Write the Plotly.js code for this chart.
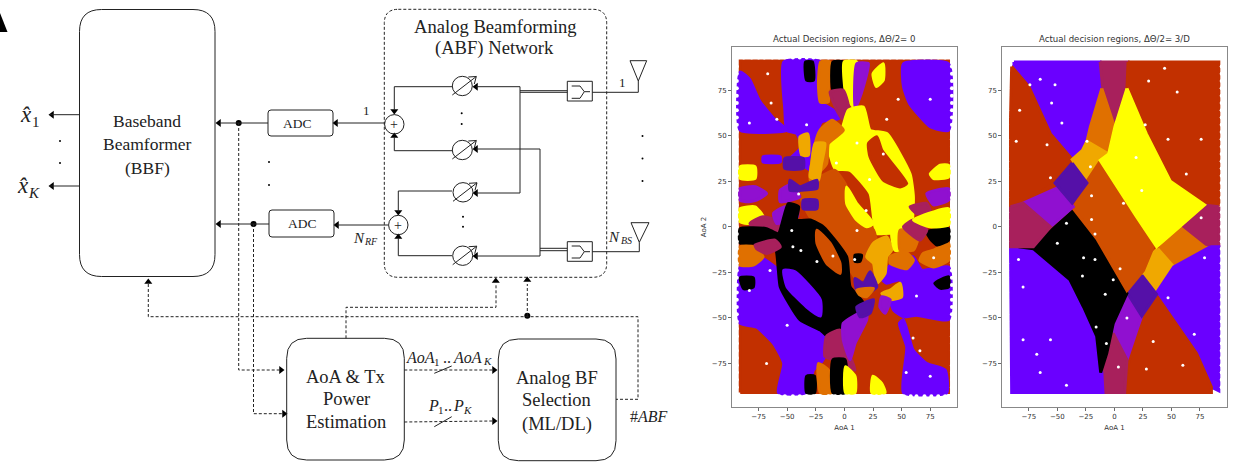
<!DOCTYPE html>
<html><head><meta charset="utf-8">
<script src="https://cdn.plot.ly/plotly-3.0.0.min.js"></script>
<style>html,body{margin:0;padding:0;background:#fff}#c{width:1241px;height:462px}</style>
</head><body><div id="c"></div>
<script>
// ---- region colours
const palette = {purple:'#6A00FF',red:'#C23000',crimson:'#A8205C',orange:'#E07000',amber:'#F0A800',
  yellow:'#FFFF00',black:'#000000',indigo:'#5510A8',violet:'#9010D0',deep:'#D04F00'};

// ---- right plot: decision regions (AoA 1, AoA 2) vertices
const rightRegions = [
 ['red',[[-88,-88],[88,-88],[88,88],[-88,88]]],
 ['purple',[[-88,90.5],[-12.5,90.5],[-11,76],[-21,55],[-24,47],[-28,42],[-37,37],[-39,39],[-56,51],[-75,77],[-88,88]]],
 ['red',[[-90,88],[-75,77],[-56,51],[-39,39],[-37,37],[-37,35],[-52,24],[-80,13],[-91,11],[-91,60]]],
 ['crimson',[[-12.5,90.5],[12,90.5],[11,75],[0,55],[-10,75]]],
 ['orange',[[-11,76],[0,55],[-5,40],[-24,47],[-21,55]]],
 ['amber',[[-24,47],[-5,40],[-12,36],[-24,25],[-37,37],[-28,42]]],
 ['red',[[12,90.5],[91.5,90.5],[91.5,12],[79,12],[49,25],[28,51],[11,76]]],
 ['crimson',[[91.5,11],[79,12],[57,0],[65,-7],[84,-11],[91.5,-11]]],
 ['orange',[[57,0],[79,-11],[84,-12],[52,-22],[38,-13]]],
 ['amber',[[38,-12],[52,-22],[37,-35],[25,-26],[31,-16]]],
 ['purple',[[84,-11],[91.5,-11],[91.5,-90],[85,-88],[72,-69.5],[36,-37],[52,-22]]],
 ['red',[[36,-37],[72,-69.5],[85,-88],[85,-91],[9,-91],[11,-79],[19.5,-57],[24,-49]]],
 ['violet',[[11,-38],[24,-49],[19.5,-57],[11,-73],[0.5,-62],[-1,-53]]],
 ['indigo',[[24,-26.5],[37,-37],[24,-49],[11,-36]]],
 ['crimson',[[-11,-91],[9,-91],[11,-73],[-1,-58.5],[-6.7,-69.5],[-11,-80]]],
 ['purple',[[-91,-11],[-84,-11],[-71,-12],[-39,-29],[-27,-44],[-15.5,-60],[-11,-80],[-10,-91],[-90,-91]]],
 ['black',[[-36,9],[-15.5,-6.4],[11,-36.5],[-1,-53],[-6.7,-69.5],[-12,-80],[-15.5,-60],[-27,-44],[-39,-29],[-71,-12],[-84,-11],[-59,-4]]],
 ['deep',[[-12.5,36],[34,-11],[25.5,-24],[11,-35],[-15.5,-6.4],[-36,10],[-24,25]]],
 ['yellow',[[11,76],[28,51],[49,25],[79,12],[57,0],[37,-11],[19.5,5.5],[-12.5,36.5],[-5,40],[0.5,55]]],
 ['violet',[[-47.5,22],[-36,11],[-56,0],[-80,13]]],
 ['indigo',[[-37,35],[-24,24],[-37,13],[-52,24]]],
 ['crimson',[[-91,11],[-80,13],[-56,0],[-71,-11],[-91,-11]]]
];
const rightSpeckX = [-65,-52,-74,-55,-46,-83,-86,-59,-24,-21,-56,-20,-20,-42,-50,-27,-17,-1,-8,-28,-84,-80,-80,-68,-65,-42,-56,-16,-7,5,-17,8,19,24,30,44,55,63,76,47,27,76,79,47,70,60,28,34,11,3.5];
const rightSpeckY = [81,78,78,68,57,64,47,45,47,33,27,17,4,2,-9,-17,-18,-29,-37,-27,-18,-33,-62,-70,-80,-87,-62,-55,-64,-23,-4,13,38,20,80,87,74,29,48,48,56,5,-17,-39,-59,-76,-78,-63,-50,-77];

// ---- left plot: decision regions, painted in this order
const leftBase = [[-91,-91],[91,-91],[91,91],[-91,91]];
const leftRegions = [
 ['purple',[[-91,-22],[-83,-18.3],[-74,-16.5],[-57.7,-23.8],[-56,-33],[-38.8,-51],[-21,-56.7],[-14,-67.6],[-21,-75],[-27,-78.6],[-33,-91],[-57.7,-91],[-53,-75],[-62,-64],[-77,-55],[-91,-53]]],
 ['purple',[[-53,90.5],[-20.7,90.5],[-20.7,68.5],[-9.6,64],[-5,59.4],[-20,57.6],[-25.7,45.7],[-28.6,31],[-41.7,35.6],[-50.4,35.6],[-37.3,43.9],[-41.7,51.2],[-50.4,53],[-52,64]]],
 ['purple',[[-91,85],[-83,81],[-74,69],[-61,59],[-50,53],[-91,53]]],
 ['purple',[[51.6,89.5],[91,89.5],[91,53],[75,55],[57,67.6],[51.6,77]]],
 ['purple',[[60,-16.5],[67.6,-23.8],[91,-22],[91,-51],[63,-48.5],[51.6,-49.4],[43,-45.7],[40,-40],[48.7,-36.6],[48.7,-29],[37,-31],[31,-27.4],[45.7,-18.3]]],
 ['purple',[[48,-53],[54.5,-66],[51.6,-91],[89.5,-91],[88,-78.6],[72,-75],[60,-67.6],[51.6,-51]]],
 ['black',[[-34,90.5],[-28,90.5],[-27,80.5],[-33,80.5]]],
 ['orange',[[-20.7,90.5],[-12.5,90.5],[-14,75],[-14,68.5],[-21,68.5],[-22.7,78.6]]],
 ['black',[[-10,90.5],[-1,90.5],[-1,75],[-10,75]]],
 ['yellow',[[-0.3,90.5],[10.8,90.5],[9.3,75],[9.3,65],[2,71],[-0.3,80.5]]],
 ['violet',[[10.8,89.5],[21,89.5],[16.6,77],[12,68.5],[9.3,65]]],
 ['crimson',[[-12.5,74],[-1,75],[3.5,66],[-1,59],[-5,62]]],
 ['yellow',[[25,84],[34,89.5],[34,80.5],[28,77]]],
 ['yellow',[[3.5,64],[16.6,65.8],[22.4,53],[37,51.2],[57.4,29],[60.3,16.5],[58.9,0],[51.6,-12.8],[44.3,-12.8],[41.4,-3.7],[28.3,-3.7],[25.4,5.5],[22.4,18.3],[5,31],[-8.2,32],[-14,43.9],[-14,49.4],[-3.8,51.2]]],
 ['red',[[21,45.7],[28.3,49.4],[32.7,42],[54.5,23.8],[48.7,21.9],[34,25.6],[22.4,38.4]]],
 ['deep',[[-38.8,18.3],[-21.3,27.4],[-8.2,31],[2,21.9],[2,12.8],[25.4,-1.8],[28.3,-9],[22.4,-27.4],[10.8,-29],[2,-20],[-18.4,0],[-30,5.5]]],
 ['yellow',[[2,21.9],[10.8,12.8],[25.4,1.8],[19.5,0],[10.8,3.7],[2,12.8]]],
 ['orange',[[-21.3,53],[-10.7,58.5],[-0.9,53],[-14,45.7],[-15.5,34.7],[-30,25.6],[-25.5,45.7]]],
 ['amber',[[-25.7,45.7],[-17,45.7],[-20,34.7],[-22.7,25.6],[-30,27.4],[-28.6,34.7]]],
 ['amber',[[-38.8,49.4],[-32,51],[-31.5,39.3],[-37.3,39.3]]],
 ['yellow',[[-91,33],[-78,33],[-78,26.5],[-91,26.5]]],
 ['violet',[[-91,21],[-78,22],[-68,18.3],[-76.7,14.6],[-85,13.7],[-91,14.6]]],
 ['yellow',[[-91,10],[-78,11],[-71,5.5],[-82.5,1.8],[-91,2.7]]],
 ['crimson',[[-82.5,1.8],[-71,5.5],[-53,1.8],[-56,-1.8],[-74,-3.7]]],
 ['violet',[[-62,7.3],[-52,11],[-41,9],[-41,5.5],[-59,1.8]]],
 ['indigo',[[-52,37.5],[-36,37.5],[-36,32],[-52,32]]],
 ['purple',[[-71,38.4],[-56,38.4],[-56,35.6],[-71,35.6]]],
 ['violet',[[-56,20],[-47.5,22.9],[-38.8,16.5],[-56,13.7]]],
 ['indigo',[[-47.5,25.6],[-38.8,22],[-24,25.6],[-24,21],[-38.8,20],[-47.5,20]]],
 ['indigo',[[-36,14.6],[-24,14.6],[-24,10],[-36,10]]],
 ['black',[[-49,12.8],[-40,11],[-41.7,3.7],[-30,3.7],[-18.4,0],[2,-16.5],[5,-33],[16.6,-42],[2,-53],[-3.8,-58.5],[-11,-62],[-21,-56.7],[-38.8,-51],[-56,-33],[-57.7,-23.8],[-60.6,-11],[-79.6,-9],[-91,-9],[-91,-1],[-68,-1],[-57.7,-3.7]]],
 ['purple',[[-53,-23.8],[-43,-24.7],[-21,-40],[-21,-49],[-33,-44],[-50,-33]]],
 ['deep',[[-24,-1.8],[-12.5,-9],[-3.8,-20],[-3.8,-25.6],[-15.5,-20],[-24,-9]]],
 ['black',[[-91,-28],[-79.6,-28],[-79.6,-33],[-88,-34]]],
 ['orange',[[-91,-11],[-79.6,-11],[-71,-16.5],[-79.6,-21],[-91,-21]]],
 ['crimson',[[-78,-10],[-60.6,-7.3],[-56,-11],[-68,-14.6],[-76.7,-12]]],
 ['black',[[-33,-82],[-26,-82],[-26,-91],[-33,-91]]],
 ['orange',[[-22.7,-75],[-14,-78.6],[-11,-91],[-21,-91]]],
 ['crimson',[[-15.5,-60],[-3.8,-56.7],[5,-71],[9.3,-78.6],[1,-76.8],[-10,-73],[-17,-71]]],
 ['black',[[-10,-73],[0.6,-73],[0.6,-91],[-10,-91]]],
 ['yellow',[[1,-76.8],[9.3,-82],[9.3,-91],[1,-91]]],
 ['violet',[[-1,-53],[19.5,-45.7],[19.5,-51],[9.3,-64],[5,-73],[-1,-62]]],
 ['yellow',[[25,-82],[32.7,-86],[35.6,-91],[24,-91]]],
 ['amber',[[25.4,-9],[37,-5.5],[41.4,-12.8],[37,-16.5],[35.6,-25.6],[28.3,-31],[25.4,-20],[19.5,-16.5]]],
 ['amber',[[40,-34.7],[48.7,-31],[50,-38.4],[40,-40],[32.7,-36.6]]],
 ['yellow',[[41.4,-3.7],[51.6,-5.5],[51.6,-12.8],[44.3,-12.8]]],
 ['orange',[[48.7,-1.8],[65,-3.7],[60.3,-12.8],[48.7,-12.8]]],
 ['orange',[[40,-16.5],[53,-13.7],[60.3,-18.3],[54.5,-23],[40,-20]]],
 ['orange',[[69,-14.6],[78,-12.8],[91,-9],[91,-18.3],[78,-22],[66,-18.3]]],
 ['black',[[72,-2.7],[91,-1],[91,-7.3],[81,-10],[75,-6.4]]],
 ['black',[[79,-31],[91,-27.4],[91,-33],[84,-33.8]]],
 ['crimson',[[51.6,0],[60.3,3.7],[72,-1.8],[66,-7.3],[57.4,-3.7]]],
 ['crimson',[[57.4,11],[72,12.8],[75,8.2],[63,7.3]]],
 ['violet',[[72,18.3],[91,21],[91,14.6],[78,12]]],
 ['yellow',[[75,29],[83.7,33.8],[91,33.8],[91,27.4],[78,26.5]]],
 ['yellow',[[60.3,3.7],[78,8.2],[91,10],[91,1],[75,0]]],
 ['indigo',[[9.3,-28.3],[16.6,-31],[22.4,-24.7],[28.3,-33],[19.5,-36.6],[10.8,-34.7]]],
 ['orange',[[10.8,-34.7],[25.4,-33.8],[19.5,-38.4],[13.7,-37.5]]],
 ['indigo',[[16.6,-42],[25.4,-40],[22.4,-47.5],[13.7,-49.4],[10.8,-44]]],
 ['violet',[[32.7,-38.4],[40,-40],[35.6,-47.5],[31,-43.9]]],
 ['black',[[9.3,-15.5],[15,-15.5],[13.7,-19],[9.3,-19]]]
];
const leftSpeckX = [-67,-64,-83,-59,-33,34,-7,11,-68,-50,22,-40,-46,-24,-10,9,-65,-83,60,54,75,66,75,47,37,11,78,63,19,-45,-38];
const leftSpeckY = [84,68,57,59,56,40,35,46,-75,-54,26,18,-2,-19,-16,-18,-24,-35,-61,-80,-82,-68,70,70,59,-2,-17,-38,9,-11,-13];

// gaps between the round points along the outer edge of the point cloud
const edgeGapX = [-88,-81,-75,-70,-63,-57,-52,-45,-39,-33,-27,-21,-14,-8,-3,4,10,15,22,28,33,40,46,52,58,63,70,76,82,88];
const edgeGapY = [-88,-84,-80,-76,-72,-68,-64,-60,-56,-52,-48,-44,-40,-36,-32,-28,-24,-20,-16,-12,-8,-4,0,4,8,12,16,20,24,28,32,36,40,44,48,52,56,60,64,68,72,76,80,84,88];

const tickVals = [-75,-50,-25,0,25,50,75];

// ---- block diagram, on a page-sized axis (x3/y3)
const roundBoxes = [[79.5,9.5,215,276.5,22],[268,110,333,136,3],[269,210,334,237,3],[286.7,338.3,404.3,460,20],[498.3,339,616,460.7,20]];
const abfBox = [384.3,9.3,606.7,277.3,14];
const splitBoxes = [[567.3,81.3,592.3,101],[567.3,241.7,592.3,261.3]];
const solidLines = [
 [[79.5,114.7],[50,114.7]],[[79.5,186],[50,186]],
 [[268,123],[220,123]],[[269,224],[220,224]],
 [[384.6,123],[336,123]],[[388,225],[337,225]],
 [[567.3,90.7],[520,90.7]],[[567.3,92.3],[520,92.3]],[[520,86.7],[520,193]],
 [[520,86.7],[476,86.7]],[[520,193],[476,193]],
 [[567.3,248.3],[540,248.3]],[[567.3,250.7],[540,250.7]],[[540,149],[540,256]],
 [[540,149],[476,149]],[[540,256],[476,256]],
 [[452,86.7],[394.3,86.7],[394.3,110]],[[452,150.7],[394.3,150.7],[394.3,137]],
 [[452,191],[398.3,191],[398.3,212]],[[452,255.7],[398.3,255.7],[398.3,238]],
 [[592.3,92.3],[638.3,92.3],[638.3,81]],[[592.3,251.7],[639.3,251.7],[639.3,242.3]],
 [[630,60.7],[646.7,60.7],[638.3,81],[630,60.7]],[[631,222.7],[649,222.7],[639.3,242.3],[631,222.7]],
 [[571.7,86],[580,86],[584.3,91.7],[580,98.3],[571.7,98.3]],[[584.3,91.7],[590,91.7]],
 [[571.7,246],[580,246],[584.3,251.7],[580,258],[571.7,258]],[[584.3,251.7],[590,251.7]],
 [[434.3,373.3],[451.7,366]],[[434.3,426.7],[451.7,416.7]]
];
const dashedLines = [
 [[238.7,123],[238.7,370],[280,370]],[[253.5,224],[253.5,413.7],[283,413.7]],
 [[148.3,284],[148.3,316.7],[638,316.7],[638,399.3],[616,399.3]],
 [[527.3,316],[527.3,284]],[[346,338.3],[346,307.3],[496,307.3],[496,284]],
 [[404.3,370],[492,370]],[[404.3,422],[492,421]]
];
const shifterX = [462.3,462.3,463,462.7];
const shifterY = [86,150,192.3,255.7];
const sumX = [394.3,398.3];
const sumY = [124.3,225];
const dotX = [238.7,253.5,527.3];
const dotY = [123,224,315.8];
const speckDotX = [60,60,269,269,642.5,642.5,642.5,461.7,461.7,463,463];
const speckDotY = [141,163,162,185,136,158.5,181,113.3,124,216.7,226.7];
const arrowLeftX = [52,219,336,337,476,476,476,476,52,219];
const arrowLeftY = [114.7,123,123,225,86.7,149,193,256,186,224];
const arrowRightX = [281,284,494,494];
const arrowRightY = [370,413.7,370,421];
const arrowUpX = [148.3,495.8,527.3,394.3,398.3];
const arrowUpY = [282,281,280,136,237];
const arrowDownX = [394.3,398.3];
const arrowDownY = [111,212];

// [text, x, y, size]
const serifLabels = [
 ['Baseband',147,120.7,17.5],['Beamformer',147,144,17.5],['(BBF)',147,167.7,17.5],
 ['ADC',297,123,13.5],['ADC',302,223,13.5],
 ['Analog Beamforming',495,26,18.6],['(ABF) Network',494,48,18.6],
 ['+',394.3,124,14],['+',398.3,225,14],
 ['1',366,110.7,13],['1',622.7,82,13],
 ['<i>N</i>',358.5,238,15],['<i>RF</i>',370.5,241.5,10],
 ['<i>N</i>',613.5,237,15],['<i>BS</i>',626,240.5,10],
 ['AoA &amp; Tx',346,377.3,18.5],['Power',346,399,18.5],['Estimation',346,421.7,18.5],
 ['Analog BF',556.7,377.7,18.5],['Selection',556.7,400,18.5],['(ML/DL)',556.7,424.3,18.5],
 ['<i>AoA</i>',420.7,357,16],['1',437.3,361.7,11],['..',446.7,357,16],['<i>AoA</i>',467,357,16],['<i>K</i>',487.5,360.7,11],
 ['<i>P</i>',433.3,405.7,16],['1',440.7,410,11],['..',448.3,405.7,16],['<i>P</i>',458.3,405.7,16],['<i>K</i>',467.3,410,11],
 ['#<i>ABF</i>',649.3,416.7,16],
 ['<i>x̂</i>',26,114,23],['1',35.5,122,15],['<i>x̂</i>',22.5,185.5,23],['<i>K</i>',34,193,15]
];
const plotTitles = [['Actual Decision regions, ΔΘ/2= 0',844.5,38.5],['Actual decision regions, ΔΘ/2= 3/D',1114.5,38.5]];

// ---- build
const traces = [];
function regionTraces(list, xa, ya, w, spl){
  list.forEach(function(r){
    const p = r[1].concat([r[1][0]]);
    traces.push({type:'scatter',mode:'lines',x:p.map(v=>v[0]),y:p.map(v=>v[1]),xaxis:xa,yaxis:ya,fill:'toself',
      fillcolor:palette[r[0]],line:{color:palette[r[0]],width:w,shape:spl?'spline':'linear',smoothing:0.5},hoverinfo:'skip',showlegend:false});
  });
}
regionTraces([['red',leftBase]],'x','y',3,false);
regionTraces(leftRegions,'x','y',3,true);
regionTraces(rightRegions,'x2','y2',3,false);
function speck(x,y,xa,ya,size){traces.push({type:'scatter',mode:'markers',x:x,y:y,xaxis:xa,yaxis:ya,marker:{color:'#fff',size:size},hoverinfo:'skip',showlegend:false});}
speck(leftSpeckX,leftSpeckY,'x','y',3);
speck(rightSpeckX,rightSpeckY,'x2','y2',3);
[['x','y'],['x2','y2']].forEach(function(a){
  speck(edgeGapX,edgeGapX.map(()=>93),a[0],a[1],4);
  speck(edgeGapX,edgeGapX.map(()=>-93),a[0],a[1],4);
  speck(edgeGapY.map(()=>94),edgeGapY,a[0],a[1],4);
  speck(edgeGapY.map(()=>-94),edgeGapY,a[0],a[1],4);
});
function marks(x,y,sym,size,col){traces.push({type:'scatter',mode:'markers',x:x,y:y,xaxis:'x3',yaxis:'y3',cliponaxis:false,
  marker:{symbol:sym,size:size,color:col||'#000'},hoverinfo:'skip',showlegend:false});}
marks(arrowLeftX,arrowLeftY,'triangle-left',7);
marks(arrowRightX,arrowRightY,'triangle-right',7);
marks(arrowUpX,arrowUpY,'triangle-up',7);
marks(arrowDownX,arrowDownY,'triangle-down',7);
marks(dotX,dotY,'circle',6);
marks(speckDotX,speckDotY,'circle',2);

function rr(b){const x0=b[0],y0=b[1],x1=b[2],y1=b[3],r=b[4];
  return `M${x0+r},${y0} L${x1-r},${y0} Q${x1},${y0} ${x1},${y0+r} L${x1},${y1-r} Q${x1},${y1} ${x1-r},${y1} L${x0+r},${y1} Q${x0},${y1} ${x0},${y1-r} L${x0},${y0+r} Q${x0},${y0} ${x0+r},${y0} Z`;}
function poly(pts){return 'M'+pts.map(p=>p[0]+','+p[1]).join(' L');}
const ink='#222';
const shapes=[];
function sh(o){shapes.push(Object.assign({xref:'x3',yref:'y3',layer:'above'},o));}
roundBoxes.forEach(b=>sh({type:'path',path:rr(b),line:{color:ink,width:1}}));
sh({type:'path',path:rr(abfBox),line:{color:ink,width:1,dash:'3px,2px'}});
splitBoxes.forEach(b=>sh({type:'rect',x0:b[0],y0:b[1],x1:b[2],y1:b[3],line:{color:ink,width:1}}));
solidLines.forEach(l=>sh({type:'path',path:poly(l),line:{color:ink,width:1}}));
dashedLines.forEach(l=>sh({type:'path',path:poly(l),line:{color:ink,width:1,dash:'3px,2px'}}));
shifterX.forEach(function(x,i){const y=shifterY[i];
  sh({type:'circle',x0:x-10,x1:x+10,y0:y-9.7,y1:y+9.7,line:{color:ink,width:1}});
  sh({type:'path',path:poly([[x-10,y+9],[x+14,y-9.5]]),line:{color:ink,width:1}});
  sh({type:'path',path:poly([[x+6,y-9],[x+14,y-9.5],[x+12,y-2]]),line:{color:ink,width:1}});
});
sumX.forEach(function(x,i){const y=sumY[i];
  sh({type:'circle',x0:x-9.7,x1:x+9.7,y0:y-9.7,y1:y+9.7,line:{color:ink,width:1}});
});
sh({type:'path',path:'M0,13 L7.5,32 L0,32 Z',fillcolor:'#000',line:{color:'#000',width:0}});

const annotations = serifLabels.map(t=>({xref:'x3',yref:'y3',x:t[1],y:t[2],text:t[0],showarrow:false,xanchor:'center',yanchor:'middle',
  font:{family:'"Liberation Serif",serif',size:t[3],color:'#222'}}));
plotTitles.forEach(t=>annotations.push({xref:'x3',yref:'y3',x:t[1],y:t[2],text:t[0],showarrow:false,xanchor:'center',yanchor:'middle',
  font:{family:'"DejaVu Sans",sans-serif',size:8.6,color:'#333'}}));

const tickFont={family:'"DejaVu Sans",sans-serif',size:7,color:'#333'};
function dataAxis(dom,anchor,title,range){return {domain:dom,anchor:anchor,range:range,tickvals:tickVals,ticktext:tickVals.map(v=>v<0?'−'+(-v):''+v),
  ticks:'outside',ticklen:3,tickwidth:0.8,tickcolor:'#444',tickfont:tickFont,showgrid:false,zeroline:false,showline:true,mirror:true,linecolor:'#888',linewidth:1,
  title:title?{text:title,font:tickFont,standoff:4}:undefined};}
const W=1241,H=462;
const layout={width:W,height:H,margin:{l:0,r:0,t:0,b:0},paper_bgcolor:'#fff',plot_bgcolor:'rgba(0,0,0,0)',showlegend:false,
  xaxis:dataAxis([732/W,957/W],'y','AoA 1',[-98.2,98.4]),
  yaxis:dataAxis([1-407/H,1-47/H],'x','AoA 2',[-98.9,98.7]),
  xaxis2:dataAxis([1002.3/W,1226.7/W],'y2','AoA 1',[-98.2,98.4]),
  yaxis2:dataAxis([1-407/H,1-47/H],'x2','',[-98.9,98.7]),
  xaxis3:{domain:[0,1],anchor:'y3',range:[0,W],visible:false,fixedrange:true},
  yaxis3:{domain:[0,1],anchor:'x3',range:[H,0],visible:false,fixedrange:true},
  shapes:shapes,annotations:annotations};
Plotly.newPlot('c',traces,layout,{staticPlot:true,displayModeBar:false});
</script></body></html>
